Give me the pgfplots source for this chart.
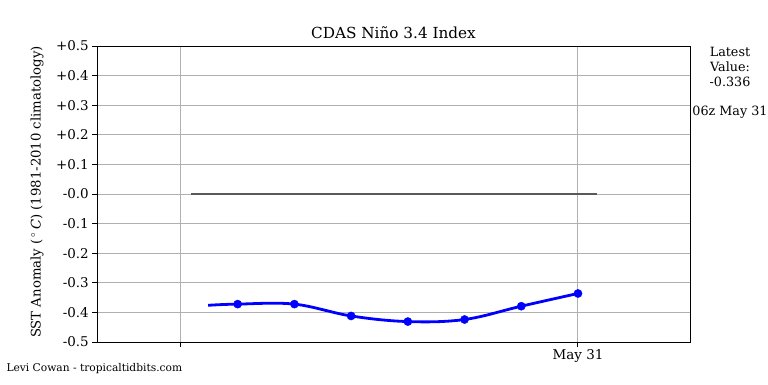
\documentclass[border=0pt]{standalone}
\usepackage{pgfplots}
\pgfplotsset{compat=1.18}
\usepackage{fontspec}
\setmainfont{DejaVu Serif}
\definecolor{gridc}{HTML}{B0B0B0}
\begin{document}
\begin{tikzpicture}[x=1bp,y=1bp]
\useasboundingbox (0,0) rectangle (768,384);
\begin{axis}[at={(97bp,42bp)}, anchor=south west, scale only axis,
 width=593bp, height=296bp,
 xmin=22.52, xmax=32.975, ymin=-0.5, ymax=0.5,
 xtick={24,31}, xticklabels={,May 31},
 ytick={-0.5,-0.4,-0.3,-0.2,-0.1,0,0.1,0.2,0.3,0.4,0.5},
 yticklabels={-0.5,-0.4,-0.3,-0.2,-0.1,-0.0,+0.1,+0.2,+0.3,+0.4,+0.5},
 grid=major, grid style={color=gridc, line width=1bp},
 tick align=outside, tick pos=left, major tick length=4.7bp,
 every tick/.style={black, line width=1bp},
 axis line style={line width=1bp},
 ticklabel style={font=\fontsize{13.5}{16}\selectfont},
 xticklabel style={yshift=1bp},
 clip=false,
]
\addplot[color=black!65, line width=1.1bp] coordinates {(24.18,0) (31.34,0)};
\addplot[color=blue, line width=2.8bp, smooth, tension=0.6] coordinates {
 (24.48,-0.376) (25,-0.372) (26,-0.372) (27,-0.412) (28,-0.431) (29,-0.424) (30,-0.379) (31,-0.336)};
\addplot[only marks, mark=*, mark size=4.1bp, color=blue] coordinates {
 (25,-0.372) (26,-0.372) (27,-0.412) (28,-0.431) (29,-0.424) (30,-0.379) (31,-0.336)};
\end{axis}
\node[font=\fontsize{15.3}{18}\selectfont] at (393.5,351) {CDAS Niño 3.4 Index};
\node[rotate=90, font=\fontsize{13.3}{16}\selectfont] at (37,192) {SST Anomaly (\,$^\circ$\,\textit{C}) (1981-2010 climatology)};
\node[anchor=west, font=\fontsize{10.7}{13}\selectfont] at (3,15) {Levi Cowan - tropicaltidbits.com};
\node[align=center, font=\fontsize{12.8}{15.2}\selectfont] at (730,317) {Latest\\Value:\\-0.336};
\node[font=\fontsize{12.8}{16}\selectfont] at (730,272) {06z May 31};
\end{tikzpicture}
\end{document}
